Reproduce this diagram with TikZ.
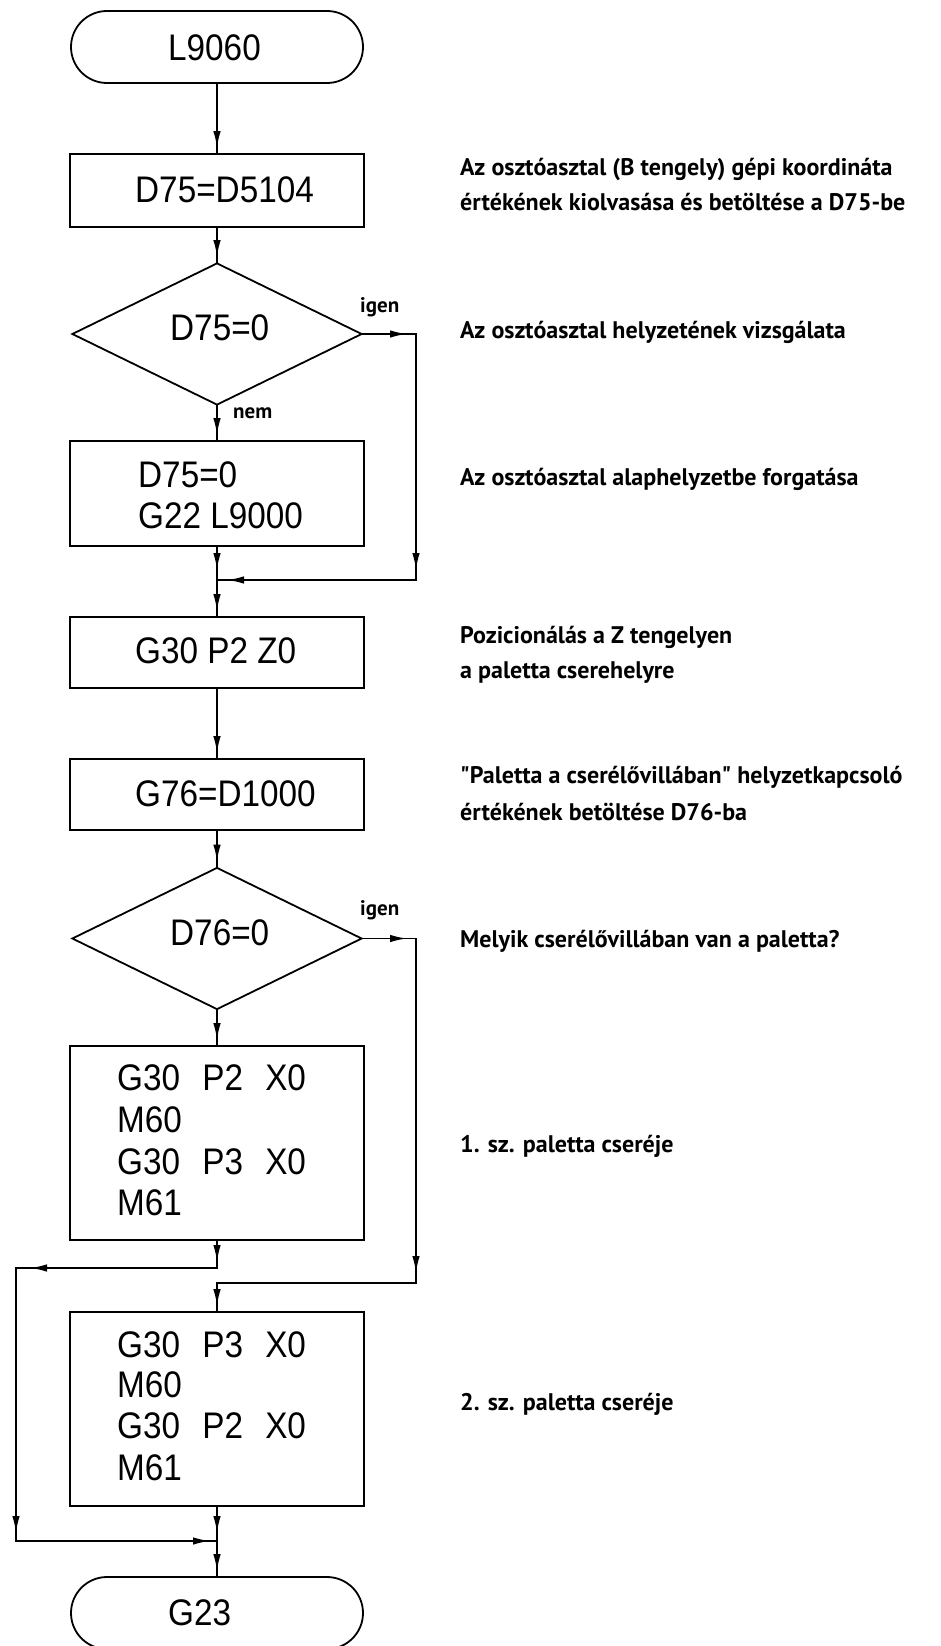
\documentclass[tikz,border=0pt]{standalone}
\usepackage{fontspec}
\setmainfont{Liberation Sans}
\newfontfamily\boxfont{Liberation Sans}[FakeStretch=0.9]
\newfontfamily\notefont{PT Sans}
\usetikzlibrary{arrows.meta,decorations.markings,shapes.geometric}
\begin{document}
\begin{tikzpicture}[x=1pt,y=-1pt,
  shp/.style={draw, line width=1.8pt, inner sep=0pt},
  box/.style={shp, rectangle, minimum width=294pt},
  term/.style={shp, rectangle, rounded corners=36pt, minimum width=292pt, minimum height=72pt},
  dec/.style={shp, diamond, minimum width=290pt, minimum height=142pt},
  btxt/.style={anchor=base west, inner sep=0pt, font=\boxfont\fontsize{37}{40}\selectfont},
  note/.style={anchor=base west, inner sep=0pt, font=\notefont\bfseries\fontsize{24}{28}\selectfont},
  lbl/.style={anchor=base west, inner sep=0pt, font=\notefont\bfseries\fontsize{21}{25}\selectfont},
  ln/.style={line width=1.8pt, line cap=rect},
  fl/.style={ln, postaction={decorate}, decoration={markings, mark=at position -#1 with {\arrow{Latex[length=17pt,width=7.5pt]}}}},
  fl/.default=5pt
]
\useasboundingbox (0,0) rectangle (941,1646);

% shapes
\node[term] (t1) at (217,47) {};
\node[box, minimum height=73pt] (b1) at (217,190.5) {};
\node[dec] (d1) at (217,334) {};
\node[box, minimum height=105pt] (b2) at (217,493.5) {};
\node[box, minimum height=71pt] (b3) at (217,652.5) {};
\node[box, minimum height=71pt] (b4) at (217,794.5) {};
\node[dec] (d2) at (217,938.5) {};
\node[box, minimum height=194pt] (b5) at (217,1143) {};
\node[box, minimum height=194pt] (b6) at (217,1409) {};
\node[term] (t2) at (217,1613) {};

% texts in shapes
\node[btxt] (t1t) at (168,60) {L9060};
\node[btxt] (b1t) at (135,202) {D75=D5104};
\node[btxt] (d1t) at (170,340) {D75=0};
\node[btxt] (b2t1) at (138,487) {D75=0};
\node[btxt] (b2t2) at (138,528) {G22 L9000};
\node[btxt] (b3t) at (135,663) {G30 P2 Z0};
\node[btxt] (b4t) at (135,806) {G76=D1000};
\node[btxt] (d2t) at (170,945) {D76=0};
\node[btxt] (b5t1) at (117,1090) {G30\hspace{0.6em}P2\hspace{0.6em}X0};
\node[btxt] (b5t2) at (117,1132) {M60};
\node[btxt] (b5t3) at (117,1174) {G30\hspace{0.6em}P3\hspace{0.6em}X0};
\node[btxt] (b5t4) at (117,1215) {M61};
\node[btxt] (b6t1) at (117,1357) {G30\hspace{0.6em}P3\hspace{0.6em}X0};
\node[btxt] (b6t2) at (117,1397) {M60};
\node[btxt] (b6t3) at (117,1438) {G30\hspace{0.6em}P2\hspace{0.6em}X0};
\node[btxt] (b6t4) at (117,1480) {M61};
\node[btxt] (t2t) at (168,1625) {G23};

% branch labels
\node[lbl] (ig1) at (360,312) {igen};
\node[lbl] (nem1) at (233,418) {nem};
\node[lbl] (ig2) at (360,915) {igen};

% helper points
\coordinate (j1) at (217,580);
\coordinate (r1) at (416,334);
\coordinate (r1b) at (416,580);
\coordinate (r2) at (416,938.5);
\coordinate (r2b) at (416,1283);
\coordinate (m2) at (217,1283);
\coordinate (l1) at (217,1268);
\coordinate (l2) at (16,1268);
\coordinate (l3) at (16,1541);
\coordinate (j2) at (217,1541);

% connectors
\draw[fl] (t1.south) -- (b1.north);
\draw[fl] (b1.south) -- (d1.north);
\draw[fl] (d1.south) -- (b2.north);
\draw[fl=9pt] (d1.east) -- (r1);
\draw[fl=10pt] (r1) -- (r1b);
\draw[fl=10pt] (r1b) -- (j1);
\draw[fl=10pt] (b2.south) -- (j1);
\draw[fl] (j1) -- (b3.north);
\draw[fl] (b3.south) -- (b4.north);
\draw[fl] (b4.south) -- (d2.north);
\draw[fl] (d2.south) -- (b5.north);
\draw[fl=9pt] (d2.east) -- (r2);
\draw[fl=10pt] (r2) -- (r2b);
\draw[ln] (r2b) -- (m2);
\draw[fl] (m2) -- (b6.north);
\draw[fl=6pt] (b5.south) -- (l1);
\draw[fl=14pt] (l1) -- (l2);
\draw[fl=8pt] (l2) -- (l3);
\draw[fl=7pt] (l3) -- (j2);
\draw[fl=8pt] (b6.south) -- (j2);
\draw[fl] (j2) -- (t2.north);

% notes
\node[note] (n1a) at (460,175) {Az osztóasztal (B tengely) gépi koordináta};
\node[note] (n1b) at (460,210) {értékének kiolvasása és betöltése a D75-be};
\node[note] (n2) at (460,338) {Az osztóasztal helyzetének vizsgálata};
\node[note] (n3) at (460,485) {Az osztóasztal alaphelyzetbe forgatása};
\node[note] (n4a) at (460,643) {Pozicionálás a Z tengelyen};
\node[note] (n4b) at (460,678) {a paletta cserehelyre};
\node[note] (n5a) at (460,783) {"Paletta a cserélővillában" helyzetkapcsoló};
\node[note] (n5b) at (460,820) {értékének betöltése D76-ba};
\node[note] (n6) at (460,947) {Melyik cserélővillában van a paletta?};
\node[note] (n7) at (460,1152) {1. sz. paletta cseréje};
\node[note] (n8) at (460,1410) {2. sz. paletta cseréje};
\end{tikzpicture}
\end{document}
